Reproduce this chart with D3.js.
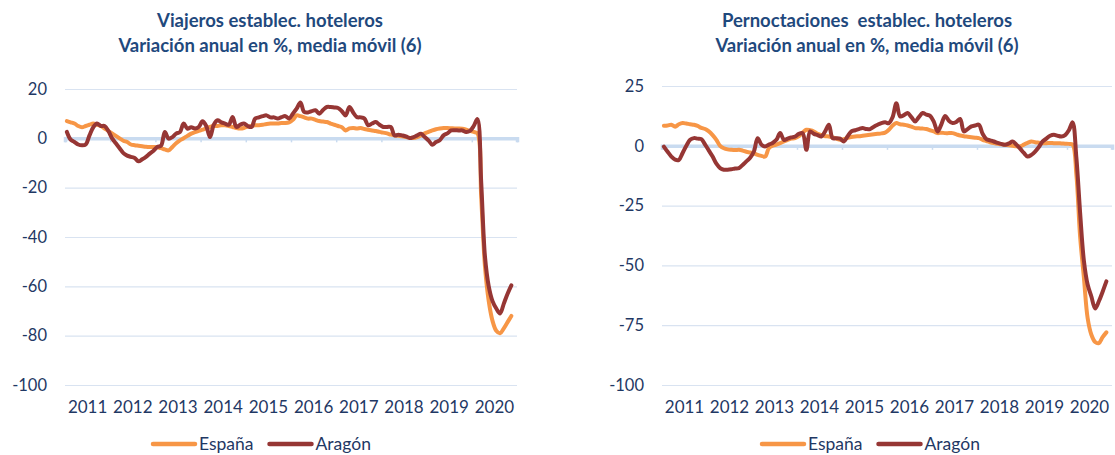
<!DOCTYPE html>
<html>
<head>
<meta charset="utf-8">
<script src="https://cdn.jsdelivr.net/npm/d3@7"></script>
<style>
  html, body { margin: 0; padding: 0; background: #ffffff; }
  svg { display: block; font-family: Lato, "Open Sans", sans-serif; }
</style>
</head>
<body>
<svg id="chart" width="1115" height="455"></svg>
<script>
// ---- Data (monthly, Jan 2011 – Nov 2020) ----
const years = ["2011","2012","2013","2014","2015","2016","2017","2018","2019","2020"];
const seriesNames = ["España", "Aragón"];

const titlesLeft = ["Viajeros establec. hoteleros", "Variación anual en %, media móvil (6)"];
const titlesRight = ["Pernoctaciones  establec. hoteleros", "Variación anual en %, media móvil (6)"];

const yTicksLeft = [20, 0, -20, -40, -60, -80, -100];
const yTicksRight = [25, 0, -25, -50, -75, -100];

const viajerosEspana = [
  7, 6.5, 6, 5, 4.5, 5, 5.5, 6, 5.5, 5, 4, 3,
  2, 1, 0, -1, -1.5, -2.5, -2.8, -3, -3.2, -3.4, -3.5, -3.5,
  -3.6, -4, -4.5, -4.9, -3.5, -2, -0.8, 0, 1, 1.9, 2.5, 3,
  3.5, 4, 4.6, 5, 5, 5.3, 5.3, 5, 4.6, 4.2, 4, 4.2,
  4.8, 5, 5.3, 5.3, 5.5, 5.8, 6, 6, 6, 6.2, 6.2, 6.5,
  7.5, 9.3, 9, 8.5, 8, 8, 7.5, 7, 6.8, 6.6, 6, 5.5,
  5, 4.5, 3.2, 4, 4.2, 4, 4.2, 3.8, 3.5, 3.2, 3, 2.6,
  2.3, 2, 1.5, 1.2, 1, 0.8, 0.5, 0.2, 0.1, 0.5, 1.2, 2,
  2.6, 3.2, 3.7, 4, 4.2, 4.2, 4.1, 4, 4, 3.9, 3.5, 3,
  2.6, 2, -24, -52, -66, -74, -78, -79, -77, -74.5, -72
];
const viajerosAragon = [
  2.6, -0.5, -1.5, -2.5, -2.8, -2.5, 1.2, 4.5, 6, 5, 5, 3,
  0, -2, -4, -6, -7, -7.5, -8, -9.3, -8.5, -7.5, -6.2, -5,
  -3.5, -3, 2.6, -0.1, 0.5, 1.9, 2.5, 6, 3.9, 4.5, 4, 4.6,
  6.9, 5, 0.5, 5.5, 7.3, 6.5, 6, 5.5, 8.6, 4.6, 5.5, 6,
  5, 4.6, 8, 8.5, 9, 9.3, 8.5, 8.5, 8, 8.6, 9, 8,
  10, 12, 14.5, 10.7, 10.5, 11, 11.4, 10, 11.5, 12.7, 12.7, 12.5,
  12.3, 11, 9.3, 12.7, 10.5, 8.6, 8.5, 8, 5.3, 6, 6.6, 5.5,
  4.6, 4.6, 4.6, 1.2, 1.5, 1.2, 0.8, 0.1, 0.5, 1.2, 1.9, 0.5,
  -0.8, -2.6, -1.5, -0.8, 1.2, 2, 3.2, 3.3, 3.2, 3.2, 2.6, 3,
  5, 7.8, -18, -48, -60, -66, -69, -71, -67, -63, -59.6
];
const pernoctEspana = [
  8.4, 8.5, 8.8, 8, 9, 9.5, 9.3, 9, 8.8, 8.3, 7.5, 7,
  6, 4.5, 2.5, 0, -1, -1.5, -1.7, -1.8, -1.7, -2, -2.5, -2.8,
  -3.2, -3.8, -4.2, -4.5, -1, 0, 0.5, 1.1, 1.8, 2.5, 3, 3.2,
  4, 5.5, 6.7, 6.5, 6, 5, 4.5, 4, 3.9, 3.5, 3, 2.5,
  2.8, 3.3, 3.7, 3.9, 4, 4.2, 4.4, 4.6, 4.8, 5, 5.2, 5.5,
  6.7, 8.5, 9.5, 9, 8.8, 8.5, 8, 7.4, 7.3, 7.2, 7, 6.5,
  6, 5.3, 5.5, 5.3, 5.3, 5.3, 4.8, 4.3, 4, 3.8, 3.6, 3.4,
  3.2, 2.5, 2, 1.5, 1.1, 0.8, 0.6, 0.4, 0.2, 0, -0.2, -0.3,
  0.5, 1.2, 1.8, 1.5, 1.3, 1.1, 1.1, 1.2, 1.1, 1.1, 1, 0.9,
  0.8, 0.5, -12, -38, -55, -72, -79, -82, -82.5, -80, -78
];
const pernoctAragon = [
  -0.3, -2.5, -4.5, -5.8, -5.9, -3, 0, 2.5, 3.2, 3, 2.8, 0.5,
  -2, -4.5, -7.5, -9.3, -10, -10, -9.8, -9.5, -9.3, -8, -6.5, -5,
  -2.4, 3.2, 0.5, -0.3, 0.5, 1.2, 2.5, 5.3, 2.5, 3, 3.5, 3.9,
  5, 5.3, -1.7, 6, 5, 4.5, 3.9, 6, 8.8, 3.2, 3.2, 3,
  1.8, 4, 6, 6.5, 7, 7.4, 7, 7, 8, 8.8, 9.5, 9.8,
  9.5, 12, 17.8, 12.3, 12.8, 13.7, 12, 10.2, 12, 13.7, 13, 12.5,
  10, 6, 9, 12.5, 10.5, 9.5, 10, 11.2, 6, 7, 8.1, 8.5,
  8.8, 5, 2.8, 2.3, 1.8, 1.2, 0.8, 0.4, 1, 1.8, 0.5, -1.2,
  -3, -4.5, -3.8, -2.4, -0.5, 1.8, 3, 4.2, 4.6, 4.2, 3.9, 4.5,
  6.5, 9.8, -5, -28, -48, -58, -63, -68, -65, -61, -56.7
];

// ---- Styling ----
const TITLE_COLOR = "#1f497d";
const TEXT_COLOR = "#1f3864";
const GRID_COLOR = "#d9e3f1";
const ZERO_COLOR = "#c9dbf0";
const COLORS = { "España": "#f79646", "Aragón": "#963634" };

const svg = d3.select("#chart");

function drawPanel(cfg) {
  const g = svg.append("g");
  const months = years.length * 12;

  const x = d3.scaleLinear().domain([0, months]).range([cfg.x0, cfg.x1]);
  const xYears = d3.scaleBand().domain(years).range([cfg.x0, cfg.x1]);
  const y = d3.scaleLinear().domain([cfg.yMin, cfg.yMax]).range([cfg.yBottom, cfg.yTop]);

  // titles
  cfg.titles.forEach((t, k) => {
    g.append("text")
      .attr("x", cfg.titleX).attr("y", 26.5 + k * 25)
      .attr("text-anchor", "middle")
      .attr("fill", TITLE_COLOR)
      .style("font-size", "18.5px").style("font-weight", "bold")
      .style("white-space", "pre")
      .text(t);
  });

  // gridlines
  const grid = g.append("g").attr("transform", `translate(${cfg.x0},0)`)
    .call(d3.axisLeft(y).tickValues(cfg.ticks.filter(v => v !== 0)).tickSize(-(cfg.x1 - cfg.x0)).tickFormat(""));
  grid.select(".domain").remove();
  grid.selectAll("line").attr("stroke", GRID_COLOR).attr("stroke-width", 1.2);

  // y labels
  const yl = g.append("g").attr("transform", `translate(${cfg.x0 - 15},0)`)
    .call(d3.axisLeft(y).tickValues(cfg.ticks).tickSize(0).tickFormat(d => String(d)));
  yl.select(".domain").remove();
  yl.selectAll("text").attr("fill", TEXT_COLOR).style("font-size", "16.5px")
    .style("font-family", "Lato, sans-serif");

  // zero axis with year ticks
  const zx = g.append("g").attr("transform", `translate(0,${y(0)})`)
    .call(d3.axisBottom(x).tickValues(d3.range(0, months + 1, 12)).tickSize(4).tickFormat(""));
  zx.select(".domain").attr("stroke", ZERO_COLOR).attr("stroke-width", 3.5);
  zx.selectAll("line").attr("stroke", ZERO_COLOR).attr("stroke-width", 1.5);

  // year labels
  const xl = g.append("g").attr("transform", `translate(0,${cfg.yBottom + 13})`)
    .call(d3.axisBottom(xYears).tickSize(0));
  xl.select(".domain").remove();
  xl.selectAll("text").attr("fill", TEXT_COLOR).style("font-size", "17px")
    .style("font-family", "Lato, sans-serif");

  // lines
  const line = d3.line()
    .x((d, i) => x(i + 0.5))
    .y(d => y(d))
    .curve(d3.curveCatmullRom.alpha(0.5));

  cfg.series.forEach(s => {
    g.append("path")
      .datum(s.values)
      .attr("fill", "none")
      .attr("stroke", COLORS[s.name])
      .attr("stroke-width", 4)
      .attr("stroke-linejoin", "round")
      .attr("stroke-linecap", "round")
      .attr("d", line);
  });

  // legend
  const lg = g.append("g");
  let lx = cfg.legendX;
  cfg.series.forEach(s => {
    lg.append("line")
      .attr("x1", lx).attr("x2", lx + 42)
      .attr("y1", 444).attr("y2", 444)
      .attr("stroke", COLORS[s.name]).attr("stroke-width", 4.5).attr("stroke-linecap", "round");
    const t = lg.append("text")
      .attr("x", lx + 46).attr("y", 450)
      .attr("fill", TEXT_COLOR)
      .style("font-size", "17.5px")
      .text(s.name);
    lx += 46 + t.node().getComputedTextLength() + 16;
  });
}

drawPanel({
  x0: 65, x1: 517, yTop: 89, yBottom: 385, yMin: -100, yMax: 20,
  ticks: yTicksLeft, titles: titlesLeft, titleX: 270, legendX: 153,
  series: [
    { name: seriesNames[0], values: viajerosEspana },
    { name: seriesNames[1], values: viajerosAragon }
  ]
});

drawPanel({
  x0: 662, x1: 1112, yTop: 86, yBottom: 385, yMin: -100, yMax: 25,
  ticks: yTicksRight, titles: titlesRight, titleX: 867, legendX: 762,
  series: [
    { name: seriesNames[0], values: pernoctEspana },
    { name: seriesNames[1], values: pernoctAragon }
  ]
});
</script>
</body>
</html>
